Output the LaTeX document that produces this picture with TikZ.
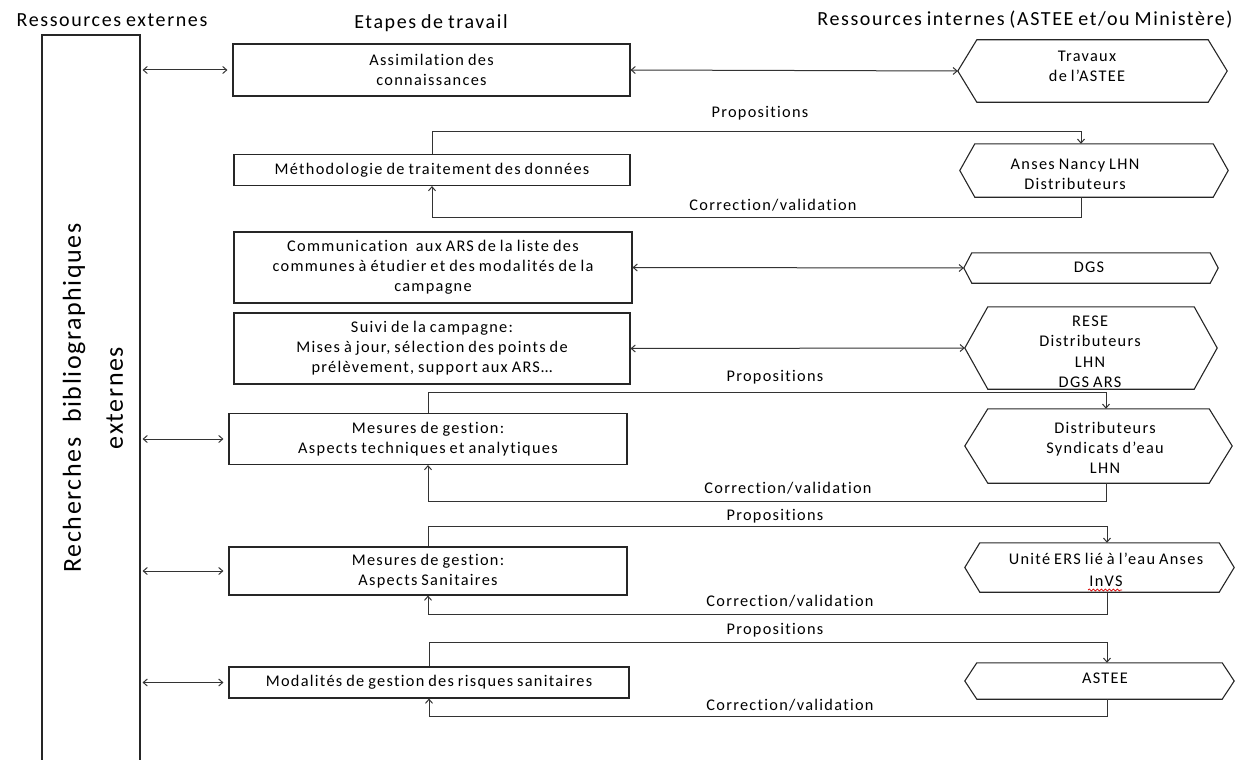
\documentclass[tikz,border=0pt]{standalone}
\usepackage{fontspec}
\setmainfont{Carlito}[LetterSpace=8,WordSpace=0.8,Ligatures=NoCommon]
\newfontfamily\vfont{Carlito}[LetterSpace=6,Ligatures=NoCommon]
\usetikzlibrary{arrows.meta,decorations.pathmorphing,calc}
\newcommand\fs{\fontsize{16.3}{20}\selectfont}
\newcommand\hexa[2]{\draw[line width=1.1pt,draw=black!85] (#1.west) -- ([xshift=#2]#1.north west) -- ([xshift=-#2]#1.north east) -- (#1.east) -- ([xshift=-#2]#1.south east) -- ([xshift=#2]#1.south west) -- cycle;}
\tikzset{
  box/.style={draw=black!85, line width=1.1pt, align=center, inner sep=0pt, font=\fs},
  hexn/.style={inner sep=0pt},
  txt/.style={align=center, inner sep=0pt, font=\fs},
  lab/.style={font=\fs, inner sep=0pt},
  head/.style={font=\fontsize{20}{22}\selectfont, inner sep=0pt},
  conn/.style={line width=1pt, draw=black!80},
  tip/.style={-{Straight Barb[length=4pt,width=7pt]}},
  dbl/.style={{Straight Barb[length=4pt,width=7pt]}-{Straight Barb[length=4pt,width=7pt]}},
}
\begin{document}
\begin{tikzpicture}[x=1pt,y=-1pt]
\useasboundingbox (0,0) rectangle (1256,760);
% headers
\node[head] (hd1) at (112,20) {Ressources externes};
\node[head] (hd2) at (431,23) {Etapes de travail};
\node[head] (hd3) at (1025,20) {Ressources internes (ASTEE et/ou Ministère)};
% left bar
\node[draw=black!85, line width=1.1pt, minimum width=98pt, minimum height=740pt, inner sep=0pt] (bar) at (91,405) {};
\node[rotate=90, align=center, inner sep=0pt, font=\vfont\fontsize{26}{42}\selectfont] (vt) at (93,398) {Recherches\ \ bibliographiques\\externes};
% boxes
\node[box, minimum width=397pt, minimum height=52pt] (b1) at (431.5,70) {Assimilation des\\connaissances};
\node[box, minimum width=396pt, minimum height=31pt] (b2) at (432,170) {Méthodologie de traitement des données};
\node[box, minimum width=398pt, minimum height=71pt] (b3) at (433,267.5) {Communication\ \ aux ARS de la liste des\\communes à étudier et des modalités de la\\campagne};
\node[box, minimum width=396pt, minimum height=71pt] (b4) at (432,348.5) {Suivi de la campagne:\\Mises à jour, sélection des points de\\prélèvement, support aux ARS…};
\node[box, minimum width=398pt, minimum height=51pt] (b5) at (428,439) {Mesures de gestion:\\Aspects techniques et analytiques};
\node[box, minimum width=398pt, minimum height=48pt] (b6) at (428,571) {Mesures de gestion:\\Aspects Sanitaires};
\node[box, minimum width=400pt, minimum height=31pt] (b7) at (429,682.5) {Modalités de gestion des risques sanitaires};
% hexagons
\node[hexn, minimum width=269pt, minimum height=62pt] (h1) at (1092.5,71) {};
\hexa{h1}{19pt}
\node[txt] (t1) at (1087,66) {Travaux\\de l’ASTEE};
\node[hexn, minimum width=268pt, minimum height=53pt] (h2) at (1094,170.5) {};
\hexa{h2}{15pt}
\node[txt] (t2) at (1075,174) {Anses Nancy LHN\\Distributeurs};
\node[hexn, minimum width=254pt, minimum height=30pt] (h3) at (1091,268) {};
\hexa{h3}{8pt}
\node[txt] (t3) at (1089,267) {DGS};
\node[hexn, minimum width=252pt, minimum height=82pt] (h4) at (1091,348) {};
\hexa{h4}{23pt}
\node[txt, font=\fontsize{16.3}{20.5}\selectfont] (t4) at (1090,352) {RESE\\Distributeurs\\LHN\\DGS ARS};
\node[hexn, minimum width=267pt, minimum height=74pt] (h5) at (1098.5,446) {};
\hexa{h5}{23pt}
\node[txt, font=\fontsize{16.3}{20}\selectfont] (t5) at (1105,448) {Distributeurs\\Syndicats d’eau\\LHN};
\node[hexn, minimum width=269pt, minimum height=49pt] (h6) at (1099.5,567.5) {};
\hexa{h6}{15pt}
\node[txt, font=\fontsize{16.3}{22}\selectfont] (t6) at (1106,570) {Unité ERS lié à l’eau Anses\\InVS};
\node[hexn, minimum width=269pt, minimum height=36pt] (h7) at (1099.5,681) {};
\hexa{h7}{12pt}
\node[txt] (t7) at (1105,678) {ASTEE};
% spell-check squiggle
\draw[red!85!black, line width=0.7pt, decorate, decoration={snake, amplitude=1pt, segment length=4pt}] (1088,590) -- (1122,590);
% left double arrows
\draw[conn, dbl, shorten <=2pt, shorten >=5pt] (bar.east |- b1.west) -- (b1.west);
\draw[conn, dbl, shorten <=2pt, shorten >=5pt] (bar.east |- b5.west) -- (b5.west);
\draw[conn, dbl, shorten <=2pt, shorten >=5pt] (bar.east |- b6.west) -- (b6.west);
\draw[conn, dbl, shorten <=2pt, shorten >=5pt] (bar.east |- b7.west) -- (b7.west);
% middle double arrows
\draw[conn, dbl] (b1.east) -- (h1.west);
\draw[conn, dbl] (b3.east) -- (h3.west);
\draw[conn, dbl] (b4.east) -- (h4.west);
% loops box 2
\draw[conn, tip] (b2.north) |- ($(h2.north)+(-13,-12)$) -- ($(h2.north)+(-13,0)$);
\draw[conn, tip] ($(h2.south)+(-13,0)$) -- ($(h2.south)+(-13,20)$) -| (b2.south);
\node[lab] (p2) at (760,113) {Propositions};
\node[lab] (c2) at (773,205) {Correction/validation};
% loops box 5
\draw[conn, tip] (b5.north) |- ($(h5.north)+(7.5,-16)$) -- ($(h5.north)+(7.5,0)$);
\draw[conn, tip] ($(h5.south)+(7.5,0)$) -- ($(h5.south)+(7.5,18)$) -| (b5.south);
\node[lab] (p5) at (775,377) {Propositions};
\node[lab] (c5) at (788,488) {Correction/validation};
% loops box 6
\draw[conn, tip] (b6.north) |- ($(h6.north)+(7.5,-16)$) -- ($(h6.north)+(7.5,0)$);
\draw[conn, tip] ($(h6.south)+(7.5,0)$) -- ($(h6.south)+(7.5,22)$) -| (b6.south);
\node[lab] (p6) at (775,516) {Propositions};
\node[lab] (c6) at (790,601) {Correction/validation};
% loops box 7
\draw[conn, tip] (b7.north) |- ($(h7.north)+(7.5,-20)$) -- ($(h7.north)+(7.5,0)$);
\draw[conn, tip] ($(h7.south)+(7.5,0)$) -- ($(h7.south)+(7.5,17)$) -| (b7.south);
\node[lab] (p7) at (775,630) {Propositions};
\node[lab] (c7) at (790,705) {Correction/validation};
\end{tikzpicture}
\end{document}
